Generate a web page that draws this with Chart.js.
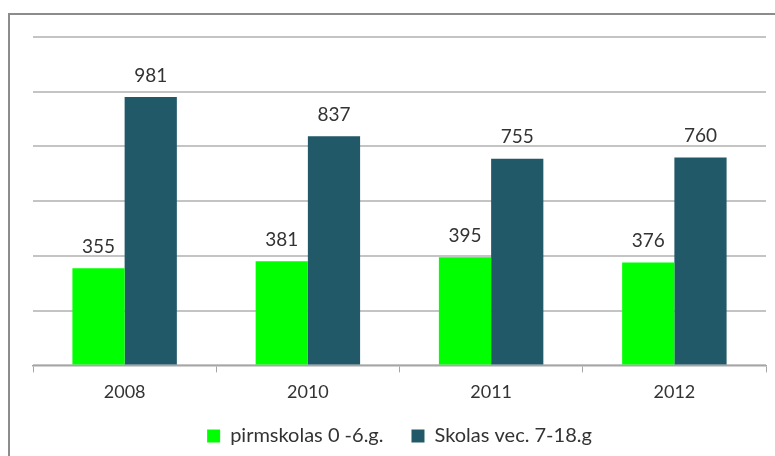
<!DOCTYPE html>
<html lang="lv">
<head>
  <meta charset="UTF-8">
  <title>pirmskolas / skolas</title>
  <script src="https://cdn.jsdelivr.net/npm/chart.js"></script>
  <style>
    body {
      margin: 0;
      background: #fff;
      overflow: hidden;
      font-family: Lato, sans-serif;
    }
    #frame {
      position: absolute;
      left: 8px;
      top: 13px;
      width: 800px;
      height: 500px;
      border: 2px solid #8c8c8c;
    }
    #wrap {
      position: absolute;
      left: 0;
      top: 0;
      width: 775px;
      height: 456px;
    }
  </style>
</head>
<body>
  <div id="frame"></div>
  <div id="wrap"><canvas id="chart"></canvas></div>

  <script>
    const years = ['2008', '2010', '2011', '2012'];
    const preschool = [355, 381, 395, 376];
    const school = [981, 837, 755, 760];
    const seriesNames = ['pirmskolas 0 -6.g.', 'Skolas vec. 7-18.g'];

    // value labels above the bars
    const valueLabels = {
      id: 'valueLabels',
      afterDatasetsDraw(chart) {
        const ctx = chart.ctx;
        ctx.save();
        ctx.font = '19px Lato, sans-serif';
        ctx.fillStyle = '#333';
        ctx.textAlign = 'center';
        ctx.textBaseline = 'bottom';
        chart.data.datasets.forEach((ds, i) => {
          chart.getDatasetMeta(i).data.forEach((bar, j) => {
            ctx.fillText(ds.data[j], bar.x, bar.y - 12);
          });
        });
        ctx.restore();
      }
    };

    new Chart(document.getElementById('chart'), {
      type: 'bar',
      data: {
        labels: years,
        datasets: [{
          label: seriesNames[0],
          data: preschool,
          backgroundColor: '#00ff00',
          categoryPercentage: 0.57,
          barPercentage: 1
        }, {
          label: seriesNames[1],
          data: school,
          backgroundColor: '#215968',
          categoryPercentage: 0.57,
          barPercentage: 1
        }]
      },
      options: {
        responsive: true,
        maintainAspectRatio: false,
        animation: false,
        layout: {
          padding: { left: 33, right: 9, top: 37, bottom: 0 }
        },
        scales: {
          x: {
            afterFit(scale) { scale.height -= 14; },
            grid: {
              drawOnChartArea: false,
              color: '#a6a6a6',
              tickLength: 7
            },
            border: { color: '#a6a6a6', width: 1.5 },
            ticks: {
              color: '#333',
              font: { family: 'Lato, sans-serif', size: 18 },
              padding: 9
            }
          },
          y: {
            min: 0,
            max: 1200,
            ticks: { stepSize: 200, display: false },
            grid: { color: '#c4c4c4', lineWidth: 2, drawTicks: false },
            border: { display: false }
          }
        },
        plugins: {
          legend: {
            position: 'bottom',
            labels: {
              boxWidth: 13,
              boxHeight: 13,
              color: '#333',
              padding: 28,
              font: { family: 'Lato, sans-serif', size: 20 }
            }
          },
          tooltip: { enabled: false }
        }
      },
      plugins: [valueLabels]
    });
  </script>
</body>
</html>
